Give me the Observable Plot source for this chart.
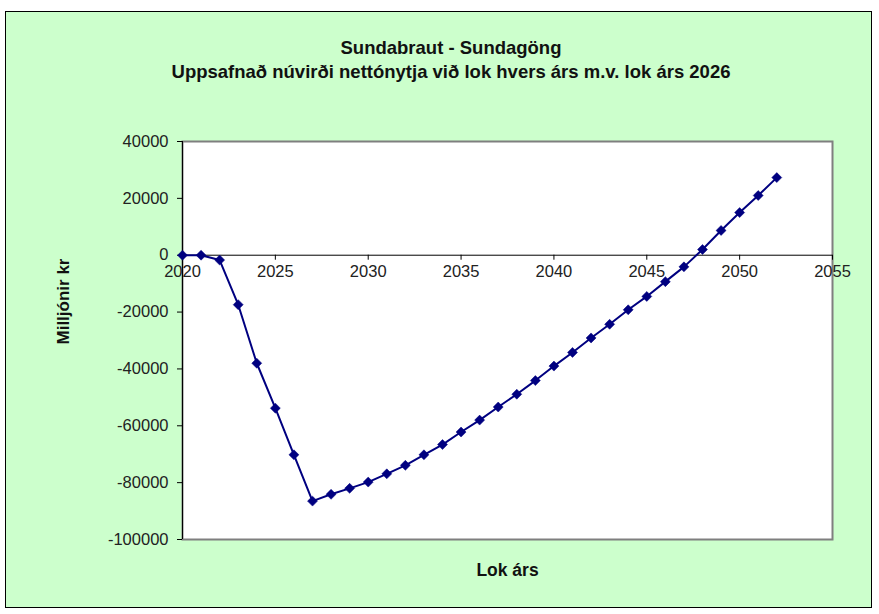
<!DOCTYPE html>
<html lang="is">
<head>
<meta charset="utf-8">
<script src="https://cdn.jsdelivr.net/npm/d3@7"></script>
<script src="https://cdn.jsdelivr.net/npm/@observablehq/plot@0.6"></script>
<style>
  html, body { margin: 0; padding: 0; background: #ffffff; }
  #chart { position: relative; width: 879px; height: 614px; font-family: "Liberation Sans", Arial, sans-serif; }
  #panel { position: absolute; left: 5px; top: 11px; width: 867px; height: 597px; box-sizing: border-box;
           background: #ccffcc; border: 1px solid #000; }
  .title { position: absolute; left: 0; width: 902px; text-align: center; font-weight: bold; font-size: 18.5px;
           line-height: 21px; color: #111; }
  #plot { position: absolute; left: 0; top: 0; }
</style>
</head>
<body>
<div id="chart">
  <div id="panel"></div>
  <div class="title" style="top:37px">Sundabraut - Sundagöng</div>
  <div class="title" style="top:61px">Uppsafnað núvirði nettónytja við lok hvers árs m.v. lok árs 2026</div>
  <div id="plot"></div>
</div>
<script>
// Cumulative net present value at the end of each year (million ISK)
const years = [2020, 2021, 2022, 2023, 2024, 2025, 2026, 2027, 2028, 2029, 2030,
               2031, 2032, 2033, 2034, 2035, 2036, 2037, 2038, 2039, 2040, 2041,
               2042, 2043, 2044, 2045, 2046, 2047, 2048, 2049, 2050, 2051, 2052];
const values = [0, 0, -1700, -17400, -38000, -53800, -70200, -86500, -84100, -82000, -79800,
                -76900, -73900, -70200, -66600, -62200, -58000, -53400, -48900, -44100, -39000, -34200,
                -29100, -24300, -19200, -14500, -9300, -4100, 2000, 8700, 15000, 21000, 27300];

const xTicks = [2020, 2025, 2030, 2035, 2040, 2045, 2050, 2055];
const yTicks = [-100000, -80000, -60000, -40000, -20000, 0, 20000, 40000];

const yLabel = "Milljónir kr";
const xLabel = "Lok árs";

const rows = years.map((year, i) => ({year, value: values[i]}));

const navy = "#000080";
const ink = "#222";

const chart = Plot.plot({
  width: 879,
  height: 614,
  marginTop: 141,
  marginLeft: 182,
  marginRight: 47,
  marginBottom: 75,
  style: {background: "transparent", fontFamily: "Liberation Sans, Arial, sans-serif", fontSize: "16px", color: ink},
  x: {domain: [2020, 2055], axis: null},
  y: {domain: [-100000, 40000], axis: null},
  marks: [
    Plot.frame({fill: "white", stroke: "#7f7f7f", strokeWidth: 2}),
    Plot.axisY({ticks: yTicks, tickSize: 5, tickPadding: 9, tickFormat: d => String(d), label: null, fontSize: 16.5, stroke: "#000"}),
    Plot.ruleX([2020], {stroke: "#000", strokeWidth: 1}),
    Plot.ruleY([0], {stroke: "#000", strokeWidth: 1}),
    // x ticks hang from the zero line
    Plot.ruleX(xTicks, {x: d => d, y1: 0, y2: 0, insetBottom: -5, stroke: "#000"}),
    Plot.text(xTicks, {x: d => d, y: 0, dy: 17, text: d => String(d), fontSize: 16.5, fill: ink}),
    Plot.line(rows, {x: "year", y: "value", stroke: navy, strokeWidth: 2}),
    Plot.dot(rows, {x: "year", y: "value", symbol: "diamond2", r: 4.5, fill: navy, stroke: navy, strokeWidth: 0.5}),
    Plot.text([yLabel], {frameAnchor: "left", rotate: -90, dx: -119, dy: 4, fontWeight: "bold", fontSize: 17, fill: "#111"}),
    Plot.text([xLabel], {frameAnchor: "bottom", dy: 36, fontWeight: "bold", fontSize: 17.5, fill: "#111"})
  ]
});

document.getElementById("plot").appendChild(chart);
</script>
</body>
</html>
